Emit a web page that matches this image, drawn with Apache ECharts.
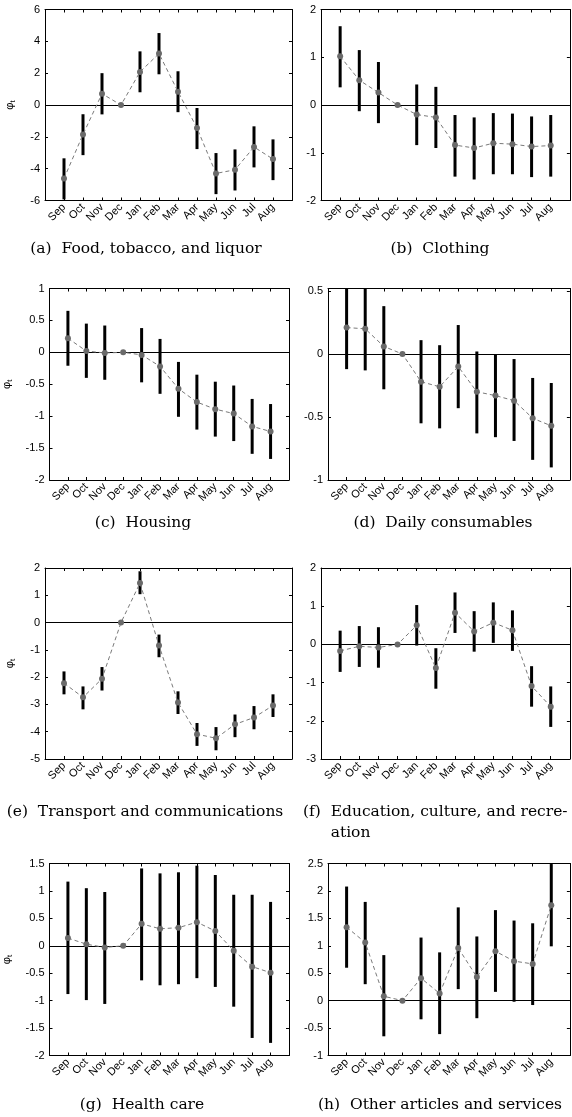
<!DOCTYPE html>
<html><head><meta charset="utf-8">
<script src="https://cdn.jsdelivr.net/npm/echarts@6/dist/echarts.min.js"></script>
<style>html,body{margin:0;padding:0;background:#fff}#c{width:572px;height:1117px}</style>
</head><body><div id="c"></div>
<script>
const months = ['Sep','Oct','Nov','Dec','Jan','Feb','Mar','Apr','May','Jun','Jul','Aug'];

const foodEst = [-4.62, -1.85, 0.71, 0, 2.08, 3.23, 0.84, -1.45, -4.30, -4.07, -2.64, -3.40];
const foodLo  = [-5.93, -3.15, -0.59, null, 0.80, 1.93, -0.45, -2.77, -5.60, -5.37, -3.92, -4.72];
const foodHi  = [-3.35, -0.58, 2.00, null, 3.37, 4.52, 2.12, -0.19, -3.02, -2.79, -1.34, -2.16];

const clothEst = [1.02, 0.52, 0.26, 0, -0.20, -0.26, -0.84, -0.90, -0.80, -0.82, -0.87, -0.85];
const clothLo  = [0.37, -0.13, -0.38, null, -0.84, -0.90, -1.50, -1.56, -1.45, -1.45, -1.51, -1.50];
const clothHi  = [1.65, 1.15, 0.90, null, 0.43, 0.38, -0.21, -0.26, -0.17, -0.18, -0.24, -0.21];

const houseEst = [0.22, 0.02, -0.01, 0, -0.04, -0.22, -0.57, -0.78, -0.89, -0.96, -1.16, -1.24];
const houseLo  = [-0.21, -0.40, -0.43, null, -0.47, -0.65, -1.01, -1.21, -1.32, -1.39, -1.59, -1.67];
const houseHi  = [0.65, 0.45, 0.42, null, 0.38, 0.21, -0.15, -0.35, -0.46, -0.52, -0.73, -0.81];

const dailyEst = [0.21, 0.20, 0.06, 0, -0.22, -0.26, -0.10, -0.30, -0.33, -0.37, -0.51, -0.57];
const dailyLo  = [-0.12, -0.13, -0.28, null, -0.55, -0.59, -0.43, -0.63, -0.66, -0.69, -0.84, -0.90];
const dailyHi  = [0.54, 0.53, 0.38, null, 0.11, 0.07, 0.23, 0.02, 0.00, -0.04, -0.19, -0.23];

const transEst = [-2.22, -2.74, -2.06, 0, 1.45, -0.84, -2.93, -4.09, -4.24, -3.73, -3.48, -3.04];
const transLo  = [-2.63, -3.18, -2.49, null, 1.04, -1.27, -3.35, -4.52, -4.68, -4.20, -3.91, -3.46];
const transHi  = [-1.79, -2.34, -1.63, null, 1.88, -0.44, -2.52, -3.68, -3.83, -3.37, -3.06, -2.63];

const eduEst = [-0.17, -0.05, -0.08, 0, 0.50, -0.62, 0.83, 0.34, 0.57, 0.37, -1.09, -1.63];
const eduLo  = [-0.72, -0.59, -0.61, null, -0.03, -1.16, 0.30, -0.19, 0.04, -0.17, -1.63, -2.16];
const eduHi  = [0.36, 0.48, 0.45, null, 1.03, -0.10, 1.36, 0.87, 1.10, 0.89, -0.57, -1.10];

const healthEst = [0.14, 0.03, -0.03, 0, 0.40, 0.31, 0.33, 0.43, 0.27, -0.09, -0.38, -0.49];
const healthLo  = [-0.88, -0.99, -1.06, null, -0.63, -0.72, -0.70, -0.59, -0.75, -1.11, -1.68, -1.77];
const healthHi  = [1.17, 1.05, 0.98, null, 1.41, 1.32, 1.34, 1.46, 1.29, 0.93, 0.93, 0.80];

const otherEst = [1.34, 1.06, 0.08, 0, 0.41, 0.13, 0.96, 0.43, 0.90, 0.72, 0.67, 1.74];
const otherLo  = [0.60, 0.30, -0.65, null, -0.34, -0.61, 0.21, -0.32, 0.16, -0.02, -0.08, 0.99];
const otherHi  = [2.08, 1.80, 0.83, null, 1.15, 0.88, 1.70, 1.17, 1.65, 1.46, 1.41, 2.49];

const captions = ['(a)  Food, tobacco, and liquor', '(b)  Clothing', '(c)  Housing', '(d)  Daily consumables',
  '(e)  Transport and communications', '(f)  Education, culture, and recre-', '(g)  Health care', '(h)  Other articles and services'];

const panels = [
  {est: foodEst, lo: foodLo, hi: foodHi, ymin: -6, ymax: 6, step: 2},
  {est: clothEst, lo: clothLo, hi: clothHi, ymin: -2, ymax: 2, step: 1},
  {est: houseEst, lo: houseLo, hi: houseHi, ymin: -2, ymax: 1, step: 0.5},
  {est: dailyEst, lo: dailyLo, hi: dailyHi, ymin: -1, ymax: 0.52, step: 0.5},
  {est: transEst, lo: transLo, hi: transHi, ymin: -5, ymax: 2, step: 1},
  {est: eduEst, lo: eduLo, hi: eduHi, ymin: -3, ymax: 2, step: 1},
  {est: healthEst, lo: healthLo, hi: healthHi, ymin: -2, ymax: 1.5, step: 0.5},
  {est: otherEst, lo: otherLo, hi: otherHi, ymin: -1, ymax: 2.5, step: 0.5}
];

// layout
const gridBoxes = [
  {left: 45, top: 9.5, width: 247, height: 191},
  {left: 321, top: 9.5, width: 250, height: 191},
  {left: 47, top: 288.5, width: 242, height: 191.5},
  {left: 328, top: 288.5, width: 248, height: 191.5},
  {left: 45, top: 568, width: 247, height: 191},
  {left: 321, top: 568, width: 250, height: 191},
  {left: 47, top: 863.5, width: 242, height: 192},
  {left: 328, top: 863.5, width: 248, height: 192}
];
const nameGaps = [28, 0, 36, 0, 28, 0, 36, 0];
const capY = [249, 249, 523, 523, 812, 812, 1105, 1105];
const capX = [146, 440, 143, 443, 145, 440, 142, 440];

const axisFont = 'Liberation Sans';
const capFont = '15.5px "DejaVu Serif"';

function fmtY(step){
  return function(v){
    const k = v / step;
    if (Math.abs(k - Math.round(k)) > 1e-6) return '';
    return String(Math.round(v * 100) / 100);
  };
}

function errRender(params, api) {
  const x = api.value(0), lo = api.value(1), hi = api.value(2);
  const p1 = api.coord([x, lo]), p2 = api.coord([x, hi]);
  const cs = params.coordSys;
  const clamp = y => Math.max(cs.y, Math.min(cs.y + cs.height, y));
  return {type: 'line', shape: {x1: p1[0], y1: clamp(p1[1]), x2: p2[0], y2: clamp(p2[1])},
    style: {stroke: '#000', lineWidth: 3}};
}

const grid = [], xAxis = [], yAxis = [], series = [];
panels.forEach((p, i) => {
  grid.push(Object.assign({containLabel: false}, gridBoxes[i]));
  const baseX = {
    type: 'value', gridIndex: i, min: 0, max: 13, interval: 1,
    axisLine: {show: true, onZero: false, lineStyle: {color: '#000', width: 1}},
    axisTick: {show: true, inside: true, length: 3, lineStyle: {color: '#000'}},
    splitLine: {show: false}
  };
  xAxis.push(Object.assign({}, baseX, {position: 'bottom',
    axisLabel: {show: true, rotate: 45, margin: 5, fontFamily: axisFont, fontSize: 11, color: '#000',
      hideOverlap: false, formatter: v => months[v - 1] || ''}}));
  xAxis.push(Object.assign({}, baseX, {position: 'top', axisLabel: {show: false}}));
  const baseY = {
    type: 'value', gridIndex: i, min: p.ymin, max: p.ymax, interval: p.step,
    axisLine: {show: true, onZero: false, lineStyle: {color: '#000', width: 1}},
    axisTick: {show: true, inside: true, length: 3, lineStyle: {color: '#000'}},
    splitLine: {show: false}
  };
  const left = Object.assign({}, baseY, {position: 'left',
    axisLabel: {show: true, margin: 5, fontFamily: axisFont, fontSize: 11, color: '#000', formatter: fmtY(p.step)}});
  if (i % 2 === 0) {
    left.name = '{p|φ}{s|t}';
    left.nameLocation = 'middle';
    left.nameRotate = 90;
    left.nameGap = nameGaps[i];
    left.nameTextStyle = {rich: {
      p: {fontFamily: axisFont, fontSize: 11, color: '#000'},
      s: {fontFamily: axisFont, fontSize: 8, color: '#000', verticalAlign: 'bottom', padding: [6, 0, 0, 0]}
    }};
  }
  yAxis.push(left);
  yAxis.push(Object.assign({}, baseY, {position: 'right', axisLabel: {show: false}}));

  const errData = [];
  months.forEach((m, k) => { if (p.lo[k] != null) errData.push([k + 1, p.lo[k], p.hi[k]]); });
  series.push({
    type: 'custom', xAxisIndex: 2 * i, yAxisIndex: 2 * i, renderItem: errRender,
    encode: {x: 0, y: [1, 2]}, data: errData, z: 2, silent: true
  });
  series.push({
    type: 'line', xAxisIndex: 2 * i, yAxisIndex: 2 * i,
    data: months.map((m, k) => [k + 1, p.est[k]]),
    symbol: 'circle', symbolSize: 6, showSymbol: true,
    itemStyle: {color: '#6a6a6a'},
    lineStyle: {color: '#7a7a7a', width: 1, type: [4, 3]},
    z: 3, silent: true,
    markLine: {silent: true, symbol: ['none', 'none'], label: {show: false},
      lineStyle: {color: '#000', width: 1, type: 'solid'}, data: [{yAxis: 0}], z: 1}
  });
});

// captions
const graphic = [];
captions.forEach((c, i) => {
  if (i === 5) return;
  graphic.push({type: 'text', x: capX[i], y: capY[i],
    style: {text: c, font: capFont, fill: '#000', textAlign: 'center', textVerticalAlign: 'middle'}});
});
// wrapped caption (f)
(function(){
  const cv = document.createElement('canvas').getContext('2d');
  cv.font = capFont;
  const lab = '(f)  ';
  const x0 = 303;
  graphic.push({type: 'text', x: x0, y: capY[5],
    style: {text: captions[5], font: capFont, fill: '#000', textAlign: 'left', textVerticalAlign: 'middle'}});
  graphic.push({type: 'text', x: x0 + cv.measureText(lab).width, y: capY[5] + 21,
    style: {text: 'ation', font: capFont, fill: '#000', textAlign: 'left', textVerticalAlign: 'middle'}});
})();

const chart = echarts.init(document.getElementById('c'), null, {renderer: 'canvas'});
chart.setOption({animation: false, backgroundColor: '#fff', grid, xAxis, yAxis, series, graphic});
</script></body></html>
